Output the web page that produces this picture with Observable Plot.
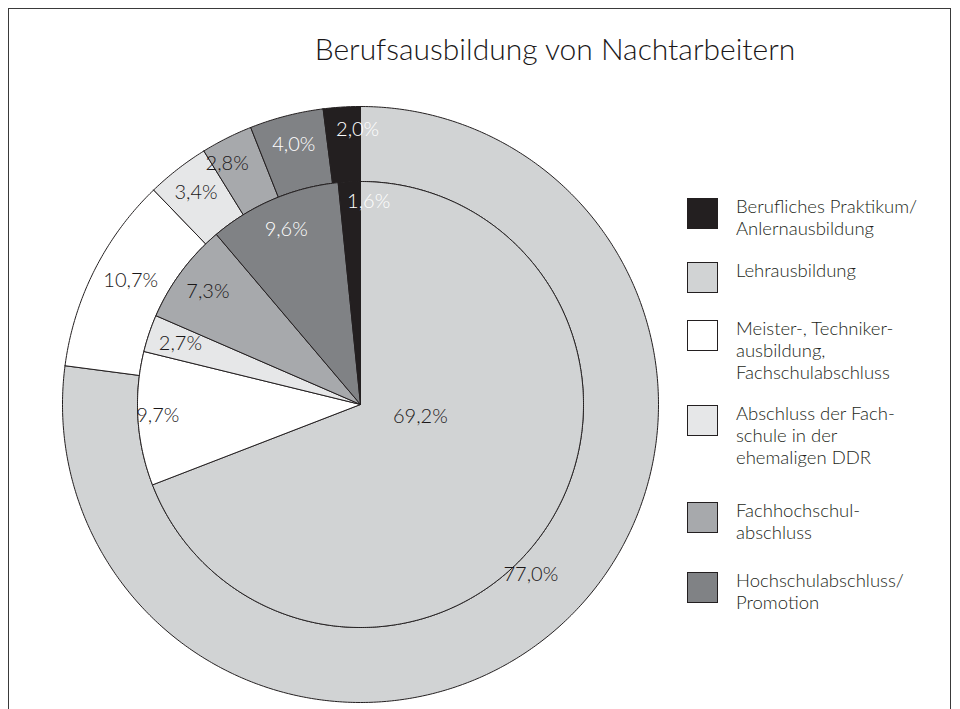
<!DOCTYPE html>
<html>
<head>
<meta charset="utf-8">
<script src="https://cdn.jsdelivr.net/npm/d3@7"></script>
<script src="https://cdn.jsdelivr.net/npm/@observablehq/plot@0.6"></script>
<style>
  body { margin: 0; background: #fff; }
  #wrap { position: relative; width: 960px; height: 709px; overflow: hidden; background: #fff;
          font-family: Lato, "Noto Sans", sans-serif; font-weight: 300; color: #231f20; }
  #frame { position: absolute; left: 8px; top: 8px; width: 943px; height: 800px;
           border: 1.5px solid #3a3a3a; box-sizing: border-box; pointer-events: none; }
  #title { position: absolute; left: 0; width: 1110px; top: 29px; text-align: center;
           font-size: 30px; line-height: 38px; white-space: nowrap; color: #1a1718; }
  #chart { position: absolute; left: 0; top: 0; }
  .item { position: absolute; left: 687px; display: flex; align-items: flex-start; }
  .sw { width: 31px; height: 31px; border: 1.5px solid #231f20; box-sizing: border-box; margin-top: 3px; }
  .lbl { margin-left: 18px; font-size: 18.5px; line-height: 22px; white-space: nowrap; }
</style>
</head>
<body>
<div id="wrap">
  <div id="title"></div>
  <div id="chart"></div>
  <div id="legend"></div>
  <div id="frame"></div>
</div>
<script>
// ---------- data ----------
const title = "Berufsausbildung von Nachtarbeitern";
const categories = [
  "Berufliches Praktikum/Anlernausbildung",
  "Lehrausbildung",
  "Meister-, Technikerausbildung, Fachschulabschluss",
  "Abschluss der Fachschule in der ehemaligen DDR",
  "Fachhochschulabschluss",
  "Hochschulabschluss/Promotion"
];
const legendLines = [
  ["Berufliches Praktikum/", "Anlernausbildung"],
  ["Lehrausbildung"],
  ["Meister-, Techniker-", "ausbildung,", "Fachschulabschluss"],
  ["Abschluss der Fach-", "schule in der", "ehemaligen DDR"],
  ["Fachhochschul-", "abschluss"],
  ["Hochschulabschluss/", "Promotion"]
];
const innerValues = [1.6, 69.2, 9.7, 2.7, 7.3, 9.6];   // inner pie (%)
const outerValues = [2.0, 77.0, 10.7, 3.4, 2.8, 4.0];  // outer ring (%)
const colors = ["#231f20", "#d1d3d4", "#ffffff", "#e6e7e8", "#a7a9ac", "#808285"];
const labelColors = ["#ffffff", "#1a1718", "#1a1718", "#1a1718", "#1a1718", "#ffffff"];
const pieOrder = [1, 2, 3, 4, 5, 0]; // clockwise from 12 o'clock

// ---------- layout ----------
const W = 960, H = 709, CX = 360, CY = 404, PX = 298; // PX = pixels per unit radius
const R_OUT = 1, R_IN = 223 / 298;
const R_LBL_IN = 190 / 298, R_LBL_OUT = 268 / 298;
const fmt = v => v.toFixed(1).replace(".", ",") + "%";
// manual label placement overrides: [angle deg, radius px]
const innerOverride = {1: [101, 61], 0: [2.3, 203], 2: [267, 203]};
const outerOverride = {1: [135, 241], 0: [-0.6, 275], 2: [298.3, 261], 4: [331, 275]};

document.getElementById("title").textContent = title;

function slices(values) {
  const total = d3.sum(values);
  let acc = 0;
  const out = [];
  for (const i of pieOrder) {
    const a0 = acc / total * 360;
    acc += values[i];
    const a1 = acc / total * 360;
    out.push({i, a0, a1, mid: (a0 + a1) / 2, value: values[i]});
  }
  return out;
}
const rad = a => a * Math.PI / 180;
const pt = (a, r) => ({x: r * Math.sin(rad(a)), y: r * Math.cos(rad(a))});

function arcPts(a0, a1, r) {
  const n = Math.max(2, Math.ceil((a1 - a0) / 0.5));
  const p = [];
  for (let k = 0; k <= n; k++) p.push(pt(a0 + (a1 - a0) * k / n, r));
  return p;
}

const polys = [];
const outerS = slices(outerValues);
for (const s of outerS) {
  const pts = [...arcPts(s.a0, s.a1, R_OUT), ...arcPts(s.a0, s.a1, R_IN).reverse()];
  pts.push(pts[0]);
  for (const p of pts) polys.push({...p, id: "o" + s.i, fill: colors[s.i]});
}
const innerS = slices(innerValues);
for (const s of innerS) {
  const pts = [{x: 0, y: 0}, ...arcPts(s.a0, s.a1, R_IN), {x: 0, y: 0}];
  for (const p of pts) polys.push({...p, id: "i" + s.i, fill: colors[s.i]});
}

const labels = [];
for (const s of outerS) {
  const o = outerOverride[s.i];
  const p = o ? pt(o[0], o[1] / PX) : pt(s.mid, R_LBL_OUT);
  labels.push({...p, text: fmt(s.value), color: labelColors[s.i]});
}
for (const s of innerS) {
  const o = innerOverride[s.i];
  const p = o ? pt(o[0], o[1] / PX) : pt(s.mid, R_LBL_IN);
  labels.push({...p, text: fmt(s.value), color: labelColors[s.i]});
}

const chart = Plot.plot({
  width: W, height: H,
  margin: 0,
  x: {domain: [-CX / PX, (W - CX) / PX], axis: null},
  y: {domain: [-(H - CY) / PX, CY / PX], axis: null},
  color: {type: "identity"},
  style: {background: "transparent", overflow: "visible"},
  marks: [
    Plot.line(polys, {x: "x", y: "y", z: "id", fill: "fill", stroke: "#231f20",
                      strokeWidth: 1, strokeLinejoin: "round", curve: "linear"}),
    Plot.text(labels, {x: "x", y: "y", text: "text", fill: "color", fontSize: 20,
                       fontFamily: "Lato, 'Noto Sans', sans-serif", fontWeight: 300})
  ]
});
document.getElementById("chart").appendChild(chart);

// ---------- legend ----------
const legendTops = [195, 259, 317, 402, 499, 569];
const legend = document.getElementById("legend");
legendLines.forEach((lines, i) => {
  const item = document.createElement("div");
  item.className = "item";
  item.style.top = legendTops[i] + "px";
  item.title = categories[i];
  const sw = document.createElement("div");
  sw.className = "sw";
  sw.style.background = colors[i];
  const lbl = document.createElement("div");
  lbl.className = "lbl";
  lbl.innerHTML = lines.map(l => l.replace(/&/g, "&amp;").replace(/</g, "&lt;")).join("<br>");
  item.appendChild(sw);
  item.appendChild(lbl);
  legend.appendChild(item);
});
</script>
</body>
</html>
